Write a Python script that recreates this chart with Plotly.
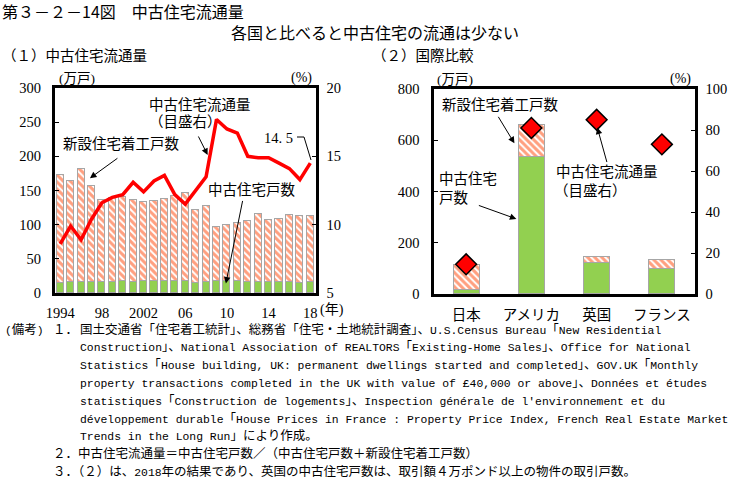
import plotly.graph_objects as go

W, H = 734, 478

# ---------------- data ----------------
years = list(range(1994, 2019))
jp_used = [15, 16, 16, 16, 16, 16, 17, 16, 17, 17, 17, 17, 17, 15, 16, 17, 17, 17, 16, 16, 16, 16, 16, 15, 16]
jp_starts = [158, 148, 165, 140, 120, 123, 124, 120, 116, 118, 121, 125, 130, 107, 112, 80, 82, 85, 89, 100, 91, 92, 98, 98, 96]
jp_ratio = [8.6, 9.9, 8.9, 10.4, 11.6, 12.0, 12.2, 13.1, 12.4, 13.2, 13.6, 12.2, 11.5, 12.5, 13.5,
            17.7, 17.0, 16.7, 15.0, 14.9, 14.9, 14.5, 14.1, 13.3, 14.5]
year_tickvals = [1994, 1998, 2002, 2006, 2010, 2014, 2018]
year_ticktext = ["1994", "98", "2002", "06", "10", "14", "18"]

countries = ["日本", "アメリカ", "英国", "フランス"]
intl_used = [16, 534, 122, 99]
intl_starts = [97, 125, 22, 35]
intl_ratio = [14.5, 81, 85, 73]

notes = [
    "国土交通省「住宅着工統計」、総務省「住宅・土地統計調査」、U.S.Census Bureau「New Residential",
    "Construction」、National Association of REALTORS「Existing-Home Sales」、Office for National",
    "Statistics「House building, UK: permanent dwellings started and completed」、GOV.UK「Monthly",
    "property transactions completed in the UK with value of £40,000 or above」、Données et études",
    "statistiques「Construction de logements」、Inspection générale de l'environnement et du",
    "développement durable「House Prices in France : Property Price Index, French Real Estate Market",
    "Trends in the Long Run」により作成。",
]
note2 = "２．中古住宅流通量＝中古住宅戸数／（中古住宅戸数＋新設住宅着工戸数）"
note3 = "３．（２）は、2018年の結果であり、英国の中古住宅戸数は、取引額４万ポンド以上の物件の取引戸数。"

# ---------------- style ----------------
GREEN = "#92D050"
HATCH = "#FF4000"
RED = "#FF0000"
OUTLINE = "#A6A6A6"
SERIF = "Liberation Serif, Noto Sans CJK JP"
JP = "Noto Sans CJK JP"
MONO = "Liberation Mono, Noto Sans CJK JP"


def px(x):
    return x / W


def py(y):
    return 1 - y / H


def cjk_wrap(s, size=12.5):
    out, run, is_cjk = [], "", None
    for c in s:
        c_cjk = ord(c) >= 0x2E80
        if is_cjk is None or c_cjk == is_cjk:
            run += c
        else:
            out.append((run, is_cjk))
            run = c
        is_cjk = c_cjk
    if run:
        out.append((run, is_cjk))
    res = ""
    for r, k in out:
        if k:
            res += f'<span style="font-size:{size}px;font-family:Noto Sans CJK JP">{r}</span>'
        else:
            res += r
    return res


hatch_marker = dict(color="white", line=dict(color=OUTLINE, width=1),
                    pattern=dict(shape="\\", fgcolor=HATCH, bgcolor="white", size=5,
                                 solidity=0.6, fillmode="overlay"))
green_marker = dict(color=GREEN, line=dict(color=OUTLINE, width=1))

fig = go.Figure()
# (1) time series
fig.add_bar(x=years, y=jp_used, xaxis="x", yaxis="y", marker=green_marker, width=0.68)
fig.add_bar(x=years, y=jp_starts, xaxis="x", yaxis="y", marker=hatch_marker, width=0.68)
fig.add_scatter(x=years, y=jp_ratio, xaxis="x", yaxis="y2", mode="lines",
                line=dict(color=RED, width=3.5))
# (2) international comparison
fig.add_bar(x=countries, y=intl_used, xaxis="x2", yaxis="y3", marker=green_marker, width=0.4)
fig.add_bar(x=countries, y=intl_starts, xaxis="x2", yaxis="y3", marker=hatch_marker, width=0.4)
fig.add_scatter(x=countries, y=intl_ratio, xaxis="x2", yaxis="y4", mode="markers",
                marker=dict(symbol="diamond", size=16, color=RED, line=dict(color="black", width=1.5)))

tickfont = dict(family=SERIF, size=14.5, color="black")
frame = dict(showline=True, linecolor="black", linewidth=3, mirror=True, showgrid=False, zeroline=False)
ytick = dict(ticks="inside", ticklen=4, tickwidth=1, tickcolor="black", tickfont=tickfont)

L = dict(x0=55, x1=315.5, y0=88, y1=293)
R = dict(x0=433.5, x1=694.5, y0=89, y1=294)

fig.update_layout(
    width=W, height=H, margin=dict(l=0, r=0, t=0, b=0, autoexpand=False),
    paper_bgcolor="white", plot_bgcolor="white",
    barmode="stack", bargap=0, showlegend=False,
    xaxis=dict(domain=[px(L["x0"]), px(L["x1"])], range=[1993.5, 2018.5], anchor="y",
               tickvals=year_tickvals, ticktext=year_ticktext, ticks="", tickfont=tickfont,
               ticklabelstandoff=5, **frame),
    yaxis=dict(domain=[py(L["y1"]), py(L["y0"])], range=[0, 300], dtick=50, anchor="x",
               ticklabelstandoff=8, **ytick, **frame),
    yaxis2=dict(overlaying="y", side="right", range=[5, 20], dtick=5, anchor="x",
                showgrid=False, zeroline=False, showline=False, ticklabelstandoff=10, **ytick),
    xaxis2=dict(domain=[px(R["x0"]), px(R["x1"])], anchor="y3", ticks="",
                tickfont=dict(family=JP, size=14.5, color="black"), ticklabelstandoff=6, **frame),
    yaxis3=dict(domain=[py(R["y1"]), py(R["y0"])], range=[0, 800], dtick=200, anchor="x2",
                ticklabelstandoff=8, **ytick, **frame),
    yaxis4=dict(overlaying="y3", side="right", range=[0, 100], dtick=20, anchor="x2",
                showgrid=False, zeroline=False, showline=False, ticklabelstandoff=10, **ytick),
)

ann = []


def text(t, x, y, size=14.5, family=JP, xanchor="center", yanchor="middle", color="black"):
    ann.append(dict(text=t, x=px(x), y=py(y), xref="paper", yref="paper", showarrow=False,
                    xanchor=xanchor, yanchor=yanchor, font=dict(family=family, size=size, color=color)))


def arrow(xref, yref, x, y, ax, ay):
    ann.append(dict(text="", x=x, y=y, xref=xref, yref=yref, ax=ax, ay=ay, showarrow=True,
                    arrowhead=2, arrowsize=1.3, arrowwidth=1, arrowcolor="black", standoff=0))


# titles
text("第３－２－14図　中古住宅流通量", 0, 11, size=16, xanchor="left")
text("各国と比べると中古住宅の流通は少ない", 375, 32, size=16)
text("（１）中古住宅流通量", 0, 54, size=14.5, xanchor="left")
text("（２）国際比較", 370, 54, size=14.5, xanchor="left")

# unit labels
text("(万戸)", 77, 78, size=13.5, family=SERIF)
text("(%)", 301, 78, size=14, family=SERIF)
text("(万戸)", 455, 79, size=13.5, family=SERIF)
text("(%)", 680, 79, size=14, family=SERIF)
text("(年)", 332, 310, size=14, family=SERIF)

# left chart annotations
text("新設住宅着工戸数", 121, 143)
arrow("x", "y", 1996.85, 168, 29, -21)
text("中古住宅流通量", 200, 103)
text("（目盛右）", 185, 120)
arrow("x", "y2", 2008.15, 15.1, -10, -20)
text("14. 5", 278, 138, family=SERIF, size=14.5)
text("中古住宅戸数", 252, 188)
arrow("x", "y", 2009.9, 14, 17, -84)

# right chart annotations
text("新設住宅着工戸数", 500, 103)
arrow("x2", "y3", 0.74, 588, -17, -28)
text("中古住宅", 437, 177, xanchor="left")
text("戸数", 437, 196, xanchor="left")
arrow("x2", "y3", 0.77, 293, -39, -14)
text("中古住宅流通量", 607, 171)
text("（目盛右）", 590, 189)
arrow("x2", "y4", 2.01, 81.2, 10, 36)

# notes
NY0, NDY = 328, 17.8
NS = 11.4
text(cjk_wrap("(備考)"), 3, NY0, size=NS, family=MONO, xanchor="left")
text(cjk_wrap("１．"), 51, NY0, size=NS, family=MONO, xanchor="left")
for i, line in enumerate(notes):
    text(cjk_wrap(line), 78, NY0 + NDY * i, size=NS, family=MONO, xanchor="left")
text(cjk_wrap(note2), 51, NY0 + NDY * 7, size=NS, family=MONO, xanchor="left")
text(cjk_wrap(note3), 51, NY0 + NDY * 8, size=NS, family=MONO, xanchor="left")

fig.update_layout(annotations=ann)

# bent leader line for the "14.5" label
fig.add_shape(type="path", xref="paper", yref="paper",
              path=f"M {px(297)},{py(137)} L {px(304)},{py(137)} L {px(311)},{py(160)}",
              line=dict(color="black", width=1))

fig.write_html("out.html", config={"displayModeBar": False},
               post_script="document.body.style.margin='0px';document.body.style.padding='0px';")
